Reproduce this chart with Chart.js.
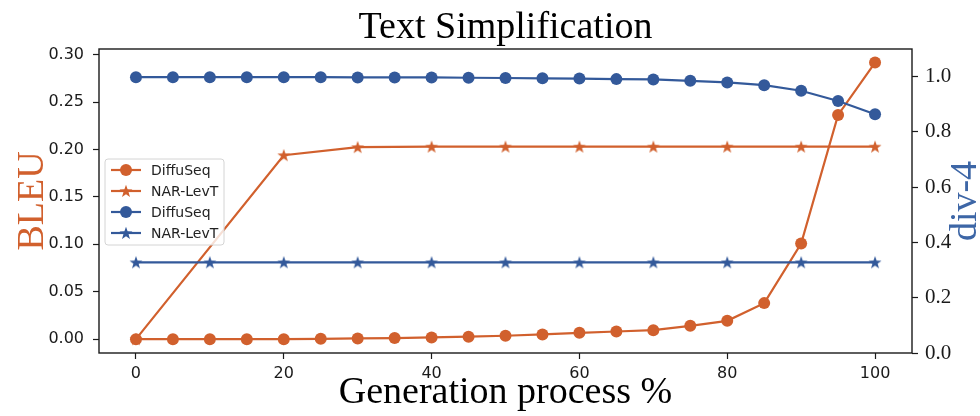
<!DOCTYPE html>
<html>
<head>
<meta charset="utf-8">
<title>Text Simplification</title>
<script src="https://cdn.jsdelivr.net/npm/chart.js@4.4.1/dist/chart.umd.min.js"></script>
<style>
  html, body { margin: 0; padding: 0; background: #fff; }
  canvas { display: block; }
</style>
</head>
<body>
<canvas id="chart" width="980" height="416"></canvas>
<script>
// ===== DATA =====
const stepsFine = [0, 5, 10, 15, 20, 25, 30, 35, 40, 45, 50, 55, 60, 65, 70, 75, 80, 85, 90, 95, 100];
const stepsTen = [0, 10, 20, 30, 40, 50, 60, 70, 80, 90, 100];
const stepsLevT = [0, 20, 30, 40, 50, 60, 70, 80, 90, 100];

// BLEU (left axis)
const bleuDiffuSeq = [0.0, 0.0, 0.0, 0.0, 0.0, 0.0004, 0.0008, 0.0011, 0.0018, 0.0026, 0.0036,
                      0.005, 0.0067, 0.0081, 0.0095, 0.0141, 0.0193, 0.038, 0.1008, 0.2365, 0.2917];
const bleuLevT = [0.0, 0.194, 0.2025, 0.203, 0.203, 0.203, 0.203, 0.203, 0.203, 0.203];

// div-4 (right axis)
const divDiffuSeq = [0.998, 0.998, 0.998, 0.998, 0.998, 0.998, 0.997, 0.997, 0.997, 0.996, 0.995,
                     0.994, 0.993, 0.991, 0.990, 0.985, 0.979, 0.969, 0.949, 0.912, 0.864];
const divLevT = [0.328, 0.328, 0.328, 0.328, 0.328, 0.328, 0.328, 0.328, 0.328, 0.328, 0.328];

const xTicks = [0, 20, 40, 60, 80, 100];
const bleuTicks = [0, 0.05, 0.10, 0.15, 0.20, 0.25, 0.30];
const divTicks = [0, 0.2, 0.4, 0.6, 0.8, 1.0];

const legendLabels = ['DiffuSeq', 'NAR-LevT', 'DiffuSeq', 'NAR-LevT'];

// ===== STYLE =====
const ORANGE = '#d1602d';
const BLUE = '#33599a';
const SERIF = '"Liberation Serif", "Times New Roman", serif';
const SANS = '"DejaVu Sans", sans-serif';

function toPoints(xs, ys) {
    return xs.map((x, i) => ({ x: x, y: ys[i] }));
}

// filled five point star, used as point style
function makeStar(color) {
    const c = document.createElement('canvas');
    c.width = 16;
    c.height = 16;
    const g = c.getContext('2d');
    g.fillStyle = color;
    g.beginPath();
    for (let i = 0; i < 10; i++) {
        const r = i % 2 === 0 ? 6.8 : 2.7;
        const a = -Math.PI / 2 + i * Math.PI / 5;
        const px = 8 + r * Math.cos(a);
        const py = 8.5 + r * Math.sin(a);
        if (i === 0) g.moveTo(px, py); else g.lineTo(px, py);
    }
    g.closePath();
    g.fill();
    return c;
}

const starOrange = makeStar(ORANGE);
const starBlue = makeStar(BLUE);

function fixTicks(values) {
    return function(scale) {
        scale.ticks = values.map(v => ({ value: v }));
    };
}

// ===== FRAME, LEGEND AND TITLES =====
const decorPlugin = {
    id: 'decor',
    afterDraw(chart) {
        const ctx = chart.ctx;
        const a = chart.chartArea;
        ctx.save();

        // axes box
        ctx.strokeStyle = '#1a1a1a';
        ctx.lineWidth = 1.4;
        ctx.strokeRect(a.left, a.top, a.right - a.left, a.bottom - a.top);

        // legend box
        const lx = 105, ly = 159, lw = 119, lh = 86;
        ctx.beginPath();
        ctx.roundRect(lx, ly, lw, lh, 3);
        ctx.fillStyle = 'rgba(255,255,255,0.8)';
        ctx.fill();
        ctx.strokeStyle = '#d4d4d4';
        ctx.lineWidth = 1;
        ctx.stroke();

        const colors = [ORANGE, ORANGE, BLUE, BLUE];
        const stars = [null, starOrange, null, starBlue];
        ctx.font = '14px ' + SANS;
        ctx.textBaseline = 'middle';
        ctx.textAlign = 'left';
        legendLabels.forEach((label, i) => {
            const y = 170 + i * 21;
            ctx.strokeStyle = colors[i];
            ctx.lineWidth = 2.2;
            ctx.beginPath();
            ctx.moveTo(111, y);
            ctx.lineTo(141, y);
            ctx.stroke();
            if (stars[i]) {
                ctx.drawImage(stars[i], 126 - 8, y - 8);
            } else {
                ctx.fillStyle = colors[i];
                ctx.beginPath();
                ctx.arc(126, y, 6, 0, Math.PI * 2);
                ctx.fill();
            }
            ctx.fillStyle = '#222';
            ctx.fillText(label, 151, y + 1);
        });

        // title and axis titles
        const cx = (a.left + a.right) / 2;
        const cy = (a.top + a.bottom) / 2;
        ctx.fillStyle = '#000';
        ctx.font = '38px ' + SERIF;
        ctx.textAlign = 'center';
        ctx.textBaseline = 'alphabetic';
        ctx.fillText('Text Simplification', cx, 38);
        ctx.fillText('Generation process %', cx, 403);

        ctx.save();
        ctx.translate(43, cy);
        ctx.rotate(-Math.PI / 2);
        ctx.fillStyle = ORANGE;
        ctx.fillText('BLEU', 0, 0);
        ctx.restore();

        ctx.save();
        ctx.translate(976, cy);
        ctx.rotate(-Math.PI / 2);
        ctx.fillStyle = '#3d66a6';
        ctx.fillText('div-4', 0, 0);
        ctx.restore();

        ctx.restore();
    }
};

const tickGrid = {
    drawOnChartArea: false,
    drawTicks: true,
    tickLength: 6,
    tickColor: '#1a1a1a',
    tickWidth: 1.2
};

new Chart(document.getElementById('chart'), {
    type: 'line',
    data: {
        datasets: [
            {
                label: 'DiffuSeq',
                data: toPoints(stepsFine, bleuDiffuSeq),
                yAxisID: 'y',
                borderColor: ORANGE,
                backgroundColor: ORANGE,
                pointStyle: 'circle',
                pointRadius: 6,
                pointBorderWidth: 0,
                order: 1
            },
            {
                label: 'NAR-LevT',
                data: toPoints(stepsLevT, bleuLevT),
                yAxisID: 'y',
                borderColor: ORANGE,
                backgroundColor: ORANGE,
                pointStyle: starOrange,
                order: 1
            },
            {
                label: 'DiffuSeq',
                data: toPoints(stepsFine, divDiffuSeq),
                yAxisID: 'y1',
                borderColor: BLUE,
                backgroundColor: BLUE,
                pointStyle: 'circle',
                pointRadius: 6,
                pointBorderWidth: 0,
                order: 0
            },
            {
                label: 'NAR-LevT',
                data: toPoints(stepsTen, divLevT),
                yAxisID: 'y1',
                borderColor: BLUE,
                backgroundColor: BLUE,
                pointStyle: starBlue,
                order: 0
            }
        ]
    },
    options: {
        responsive: false,
        animation: false,
        devicePixelRatio: 1,
        layout: { padding: { top: 49, left: 0, right: 0, bottom: 0 } },
        elements: {
            line: { borderWidth: 2.2, tension: 0 },
            point: { radius: 6, borderWidth: 0 }
        },
        plugins: {
            legend: { display: false },
            title: { display: false },
            tooltip: { enabled: false }
        },
        scales: {
            x: {
                type: 'linear',
                min: -5,
                max: 105,
                afterBuildTicks: fixTicks(xTicks),
                afterFit: s => { s.height = 63; },
                grid: tickGrid,
                border: { display: false },
                ticks: {
                    padding: 5,
                    color: '#1a1a1a',
                    font: { family: SANS, size: 16 },
                    callback: v => String(v)
                }
            },
            y: {
                type: 'linear',
                position: 'left',
                min: -0.0146,
                max: 0.306,
                afterBuildTicks: fixTicks(bleuTicks),
                afterFit: s => { s.width = 99; },
                grid: tickGrid,
                border: { display: false },
                ticks: {
                    padding: 9,
                    color: '#1a1a1a',
                    font: { family: SANS, size: 16 },
                    callback: v => Number(v).toFixed(2)
                }
            },
            y1: {
                type: 'linear',
                position: 'right',
                min: 0,
                max: 1.1,
                afterBuildTicks: fixTicks(divTicks),
                afterFit: s => { s.width = 68; },
                grid: tickGrid,
                border: { display: false },
                ticks: {
                    padding: 7,
                    color: '#1a1a1a',
                    font: { family: SERIF, size: 21 },
                    callback: v => Number(v).toFixed(1)
                }
            }
        }
    },
    plugins: [decorPlugin]
});
</script>
</body>
</html>
